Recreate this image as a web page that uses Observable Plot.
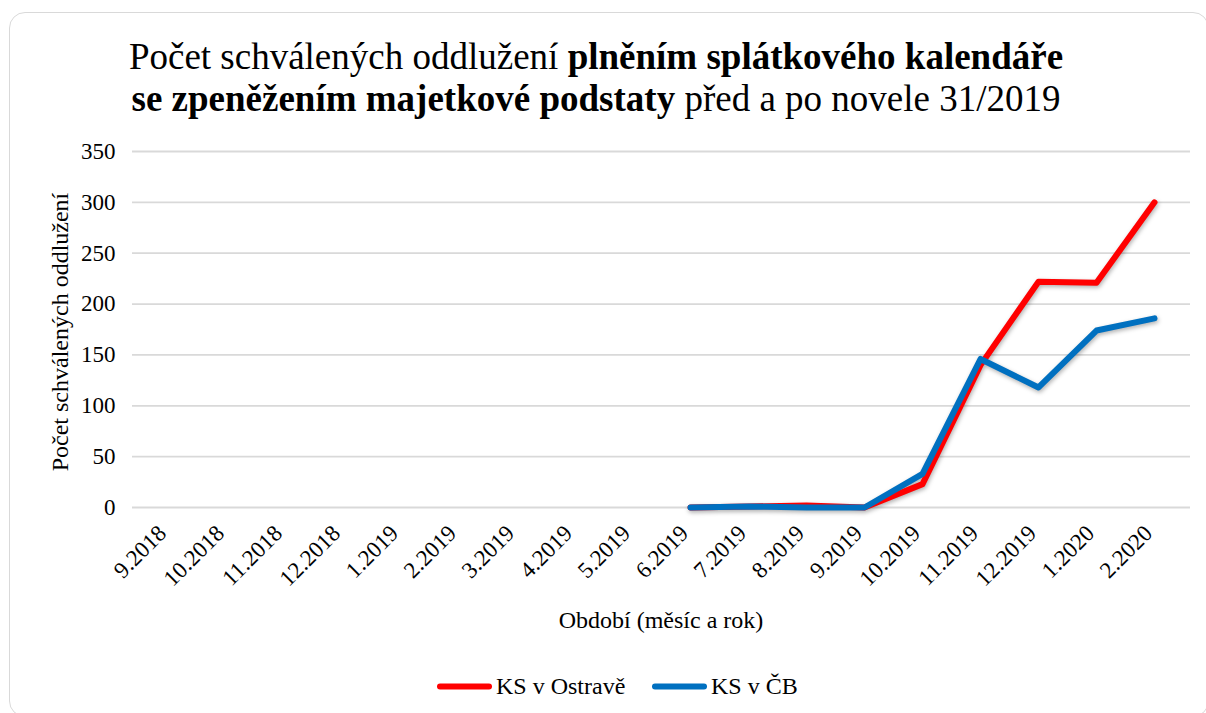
<!DOCTYPE html>
<html>
<head>
<meta charset="utf-8">
<script src="https://cdn.jsdelivr.net/npm/d3@7"></script>
<script src="https://cdn.jsdelivr.net/npm/@observablehq/plot@0.6"></script>
<style>
  html, body { margin: 0; padding: 0; background: #fff; }
  body { width: 1206px; height: 713px; position: relative; overflow: hidden; font-family: "Liberation Serif", "Times New Roman", serif; color: #000; }
  #frame { position: absolute; left: 9px; top: 12px; width: 1200px; height: 705px; border: 1.5px solid #d9d9d9; border-radius: 16px; box-sizing: border-box; }
  #title { position: absolute; left: 0; width: 1192px; top: 36px; text-align: center; font-family: "Liberation Serif", serif; font-size: 37px; line-height: 42px; }
  #chart { position: absolute; left: 0; top: 0; }
  #ylabel { position: absolute; left: 60px; top: 332px; transform: translate(-50%, -50%) rotate(-90deg); font-size: 24px; white-space: nowrap; }
  #xlabel { position: absolute; left: 661px; top: 620px; transform: translate(-50%, -50%); font-size: 24px; white-space: nowrap; }
  #legend { position: absolute; left: 0; top: 686px; width: 1206px; font-size: 24px; }
  .item { position: absolute; top: 0; display: flex; align-items: center; white-space: nowrap; transform: translateY(-50%); }
  .sw { display: inline-block; width: 55px; height: 6px; border-radius: 3px; margin-right: 4px; }
</style>
</head>
<body>
<div id="frame"></div>
<div id="chart"></div>
<div id="title">Počet schválených oddlužení <b>plněním splátkového kalendáře</b><br><b>se zpeněžením majetkové podstaty</b> před a po novele 31/2019</div>
<div id="ylabel">Počet schválených oddlužení</div>
<div id="xlabel">Období (měsíc a rok)</div>
<div id="legend"></div>
<script>
// categories (all months on the axis)
const months = ["9.2018","10.2018","11.2018","12.2018","1.2019","2.2019","3.2019","4.2019","5.2019",
                "6.2019","7.2019","8.2019","9.2019","10.2019","11.2019","12.2019","1.2020","2.2020"];
// months that have data
const dataMonths = ["6.2019","7.2019","8.2019","9.2019","10.2019","11.2019","12.2019","1.2020","2.2020"];
const ostrava = [0, 1, 2, 0, 23, 140, 222, 221, 300];
const cb      = [0, 1, 0, 0, 33, 146, 118, 174, 186];
const seriesNames = ["KS v Ostravě", "KS v ČB"];
const seriesColors = ["#ff0000", "#0070c0"];
const yTicks = [0, 50, 100, 150, 200, 250, 300, 350];

const rows = [];
dataMonths.forEach((m, i) => rows.push({month: m, value: ostrava[i], series: seriesNames[0]}));
dataMonths.forEach((m, i) => rows.push({month: m, value: cb[i], series: seriesNames[1]}));

const chart = Plot.plot({
  width: 1206,
  height: 713,
  marginLeft: 132,
  marginRight: 16,
  marginTop: 151,
  marginBottom: 206,
  style: {background: "transparent", fontFamily: "'Liberation Serif', 'Times New Roman', serif", color: "#000", fontSize: "23px"},
  x: {type: "point", domain: months, padding: 0.5},
  y: {domain: [0, 350]},
  color: {domain: seriesNames, range: seriesColors},
  marks: [
    Plot.ruleY(yTicks, {stroke: "#d9d9d9", strokeWidth: 1.8}),
    Plot.axisY({ticks: yTicks, tickSize: 0, tickPadding: 17, fontSize: 23, label: null}),
    Plot.axisX({tickSize: 0, tickRotate: -45, tickPadding: 22, fontSize: 23, label: null, dx: -6}),
    Plot.line(rows, {x: "month", y: "value", z: "series", stroke: "series", strokeWidth: 6, strokeLinecap: "round", strokeLinejoin: "round"})
  ]
});
chart.querySelectorAll('g[aria-label="line"]').forEach(g => {
  g.style.filter = "drop-shadow(1px 2px 2px rgba(0,0,0,0.3))";
});
document.getElementById("chart").appendChild(chart);

const legend = document.getElementById("legend");
const lefts = [437, 652];
seriesNames.forEach((name, i) => {
  const it = document.createElement("div");
  it.className = "item";
  it.style.left = lefts[i] + "px";
  const sw = document.createElement("span");
  sw.className = "sw";
  sw.style.background = seriesColors[i];
  it.appendChild(sw);
  it.appendChild(document.createTextNode(name));
  legend.appendChild(it);
});
</script>
</body>
</html>
